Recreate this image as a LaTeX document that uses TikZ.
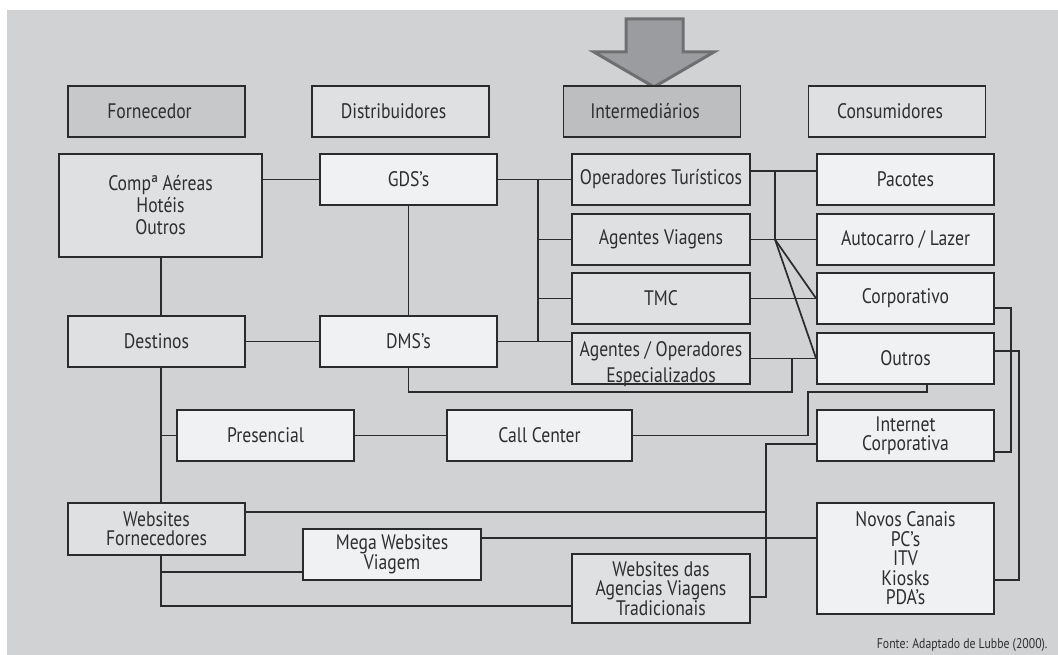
\documentclass[tikz,border=0pt]{standalone}
\usepackage{fontspec}
\setmainfont{PT Sans}[FakeStretch=0.84]
\usepackage{tikz}
\usetikzlibrary{calc}
\definecolor{bgfill}{HTML}{D1D2D4}
\definecolor{hdrdark}{HTML}{C7C8CA}
\definecolor{hdrmid}{HTML}{BDBEC0}
\definecolor{boxgray}{HTML}{DFE0E2}
\definecolor{boxlight}{HTML}{F0F1F2}
\definecolor{linedark}{HTML}{2B2B2B}
\definecolor{arrowfill}{HTML}{9B9C9F}
\definecolor{arrowedge}{HTML}{6E6F71}

\begin{document}
\begin{tikzpicture}[x=1pt,y=-1pt,
  box/.style={draw=linedark,line width=1.7pt,minimum width=177pt,minimum height=51pt,
    inner sep=0pt,align=center,text=black!82,font=\fontsize{21}{19}\selectfont},
  hdr/.style={box,execute at end node=\hspace*{14pt}},
  grey/.style={box,fill=boxgray},
  light/.style={box,fill=boxlight},
  link/.style={draw=linedark,line width=1.7pt}]
\useasboundingbox (0,0) rectangle (1058,655);
\fill[bgfill] (7,10) rectangle (1058,655);

%Arrow on top
\filldraw[fill=arrowfill,draw=arrowedge,line width=3pt]
(626,19)--(683,19)--(683,52)--(714,52)--(654,87)--(594,52)--(626,52)--cycle;

%Headers
\node[hdr,fill=hdrdark] (forn) at (156.5,111.5) {Fornecedor};
\node[hdr,fill=boxgray] (dist) at (400.5,111.5) {Distribuidores};
\node[hdr,fill=hdrmid] (inter) at (652,111.5) {Intermediários};
\node[hdr,fill=boxgray] (cons) at (897,111.5) {Consumidores};

%Boxes
\node[grey,minimum width=203pt,minimum height=103pt,font=\fontsize{21}{22}\selectfont] (comp) at (160.5,205.5) {Compª Aéreas\\Hotéis\\Outros};
\node[light] (gds) at (408.5,179.5) {GDS’s};
\node[grey] (dest) at (156.5,341.5) {Destinos};
\node[light] (dms) at (408.5,341.5) {DMS’s};
\node[grey,minimum width=178pt] (op) at (661,179.5) {Operadores Turísticos};
\node[grey,minimum width=178pt] (agv) at (661,239.5) {Agentes Viagens};
\node[grey,minimum width=178pt] (tmc) at (661,298.5) {TMC};
\node[grey,minimum width=178pt,text height=47pt,text depth=0pt,font=\fontsize{21}{26}\selectfont] (agop) at (661,358.5) {Agentes / Operadores\\Especializados};
\node[light] (pac) at (905.5,179.5) {Pacotes};
\node[light] (auto) at (905.5,239.5) {Autocarro / Lazer};
\node[light] (corp) at (905.5,298.5) {Corporativo};
\node[light] (outr) at (905.5,358.5) {Outros};
\node[light] (pres) at (265.5,435.5) {Presencial};
\node[light,minimum width=185pt] (call) at (539.5,435.5) {Call Center};
\node[light] (inet) at (905.5,435.5) {Internet\\Corporativa};
\node[grey,minimum height=52pt] (wf) at (156.5,529) {Websites\\Fornecedores};
\node[light,minimum width=178pt] (mega) at (392,554.5) {Mega Websites\\Viagem};
\node[light,minimum height=111pt,font=\fontsize{21}{19.5}\selectfont] (nov) at (905.5,558.5) {Novos Canais\\PC’s\\ITV\\Kiosks\\PDA’s};
\node[grey,minimum width=178pt,minimum height=69pt] (wag) at (661,588.5) {Websites das\\Agencias Viagens\\Tradicionais};
\node[anchor=east,text=black!82,font=\fontsize{14}{14}\selectfont] (fonte) at (1051,645) {Fonte: Adaptado de Lubbe (2000).};

\coordinate (bus) at (538,0);
\coordinate (hub) at (775,239.5);
\coordinate (spine) at (161,0);

%Supplier and distributor links
\draw[link] (comp.east |- gds.west) -- (gds.west);
\draw[link] (spine |- comp.south) -- (spine |- dest.north);
\draw[link] (gds.south) -- (dms.north);
\draw[link] (dest.east) -- (dms.west);
\draw[link] (gds.east) -- (op.west);
\draw[link] (dms.east) -- (agop.west |- dms.east);
\draw[link] (bus |- gds.east) -- (bus |- dms.east);
\draw[link] (bus |- agv.west) -- (agv.west);
\draw[link] (bus |- tmc.west) -- (tmc.west);

%Intermediary to consumer links
\draw[link] (op.east |- 0,171) -- (pac.west |- 0,171);
\draw[link] (hub |- 0,171) -- (hub);
\draw[link] (agv.east) -- (auto.west);
\draw[link] (hub) -- (corp.west);
\draw[link] (hub) -- (outr.west);
\draw[link] (tmc.east) -- (corp.west);
\draw[link] (agop.east) -- (outr.west);
\draw[link] (dms.south) |- (792,392) -- (792,358.5);
\draw[link] (corp.east |- 0,308) -| (1011,452) -- (inet.east |- 0,452);
\draw[link] (outr.east |- 0,351) -| (1019,580) -- (nov.east |- 0,580);
\draw[link] (927,0 |- outr.south) |- (808,392) |- (call.east);

%Channels
\draw[link] (pres.east) -- (call.west);
\draw[link] (spine |- dest.south) -- (spine |- wf.north);
\draw[link] (spine |- pres.west) -- (pres.west);
\draw[link] (wf.east |- 0,512) -- (766,512);
\draw[link] (inet.west |- 0,444) -| (766,597) -- (wag.east |- 0,597);
\draw[link] (mega.east |- 0,538) -- (nov.west |- 0,538);
\draw[link] (spine |- wf.south) |- (wag.west |- 0,606);
\draw[link] (spine |- 0,572) -- (mega.west |- 0,572);
\end{tikzpicture}
\end{document}
